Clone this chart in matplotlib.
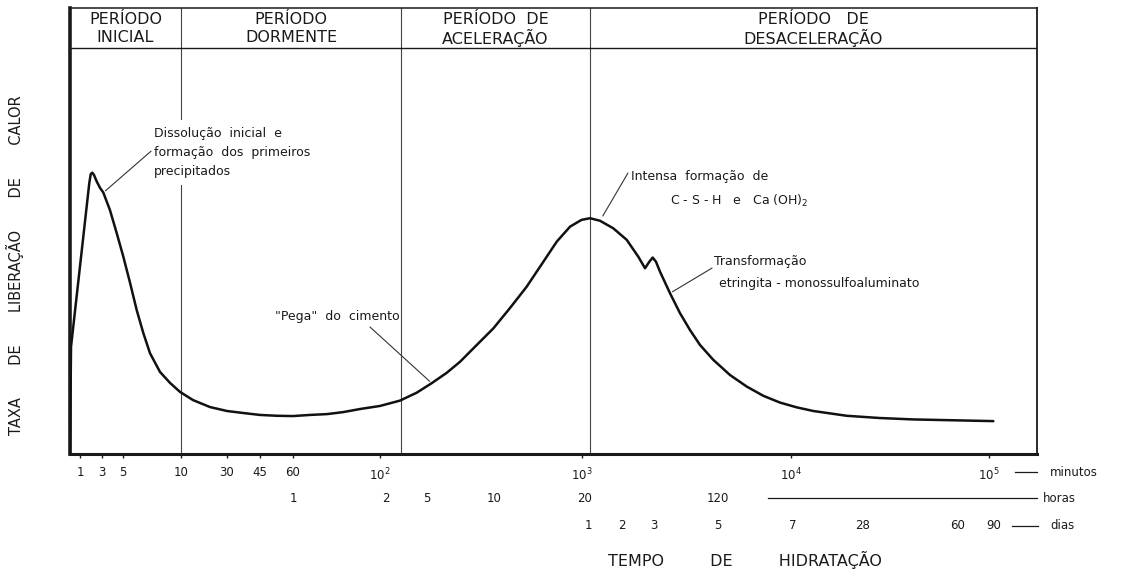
import numpy as np
import matplotlib.pyplot as plt
from matplotlib.transforms import blended_transform_factory

# heat release curve of cement hydration (arbitrary units, first peak = 100)
time_min = [0.1, 0.126, 1.59, 1.71, 1.85, 2.01, 2.30, 2.72, 3.10, 3.64, 4.29, 5.02,
            5.44, 5.89, 6.37, 6.90, 7.78, 8.77, 9.88, 13.3, 20.0, 30, 36.5, 45,
            52.2, 60, 66.3, 73.3, 80.5, 88.9, 100, 164, 238, 315, 368, 422, 502,
            596, 658, 725, 799, 864, 933, 997, 1500, 1839, 2413, 3058, 3541, 3855,
            4070, 4250, 4390, 4531, 4909, 5317, 5759, 6237, 6934, 7601, 8193, 8830,
            9517, 10850, 15070, 29200, 46200, 60360, 83210, 125000]
heat_rate = [0, 38.1, 96.4, 99.6, 100.1, 99.3, 97.0, 94.7, 93.0, 86.8, 78.6, 70.2,
             60.9, 51.2, 43.1, 35.9, 29.2, 25.3, 22.1, 19.2, 16.7, 15.3, 14.6, 13.9,
             13.6, 13.5, 13.9, 14.2, 14.9, 16.0, 17.1, 19.0, 21.8, 25.2, 28.9, 32.8,
             38.8, 44.7, 51.9, 59.5, 68.4, 75.6, 80.9, 83.3, 83.9, 83.0, 80.3, 76.2,
             70.2, 66.1, 68.4, 69.9, 68.4, 64.9, 57.2, 50.1, 44.1, 38.8, 33.5, 28.1,
             24.0, 20.7, 18.3, 16.6, 15.3, 13.6, 12.8, 12.3, 12.0, 11.7]

period_bounds_min = [10, 168, 1500]
period_names = [("PERÍODO", "INICIAL"), ("PERÍODO", "DORMENTE"),
                ("PERÍODO  DE", "ACELERAÇÃO"), ("PERÍODO   DE", "DESACELERAÇÃO")]

minute_ticks = [1, 3, 5, 10, 30, 45, 60, 100, 1000, 10000, 100000]
minute_labels = ["1", "3", "5", "10", "30", "45", "60",
                 "$10^2$", "$10^3$", "$10^4$", "$10^5$"]
hour_ticks = [1, 2, 5, 10, 20, 120]
day_ticks = [1, 2, 3, 5, 7, 28, 60, 90]

# the time axis of the original is hand drawn: piecewise log mapping
knot_min = [0.1, 1, 3, 5, 10, 30, 45, 60, 100, 120, 300, 600, 1000, 1200, 1440,
            2880, 4320, 7200, 10000, 10080, 40320, 86400, 100000, 129600, 200000]
knot_pos = [70, 80, 102, 123, 181, 227, 260, 293, 380, 386, 427, 494, 582, 585,
            588, 622, 654, 718, 791, 793, 863, 958, 989, 994, 1037]
knot_log = np.log10(knot_min)


def fwd(x):
    x = np.clip(np.asarray(x, dtype=float), 1e-6, None)
    return np.interp(np.log10(x), knot_log, knot_pos)


def inv(p):
    return 10 ** np.interp(p, knot_pos, knot_log)


ink = "#1a1a1a"
fig = plt.figure(figsize=(11.22, 5.75), dpi=100)
ax = fig.add_axes([70 / 1122, 121 / 575, 967 / 1122, 446 / 575])
ax.set_xscale("function", functions=(fwd, inv))
ax.set_xlim(0.1, 200000)
ax.set_ylim(0, 158.7)

ax.plot(time_min, heat_rate, color="#111111", lw=1.8, solid_joinstyle="round",
        solid_capstyle="round", zorder=4)

# period columns and header row
for b in period_bounds_min:
    ax.axvline(b, color="#444444", lw=0.8, zorder=1)
ax.plot([0, 1], [0.91, 0.91], transform=ax.transAxes, color=ink, lw=1.0)

x0, x1 = fwd(0.1), fwd(200000)
edges = [0] + [(fwd(b) - x0) / (x1 - x0) for b in period_bounds_min] + [1]
for i, (l1, l2) in enumerate(period_names):
    cx = (edges[i] + edges[i + 1]) / 2
    ax.text(cx, 0.975, l1, transform=ax.transAxes, ha="center", va="center",
            fontsize=11.5, color=ink)
    ax.text(cx, 0.933, l2, transform=ax.transAxes, ha="center", va="center",
            fontsize=11.5, color=ink)

for side, lw in [("left", 2.6), ("bottom", 2.2), ("top", 1.1), ("right", 1.3)]:
    ax.spines[side].set_linewidth(lw)
    ax.spines[side].set_color(ink)

ax.set_yticks([])
ax.set_xticks(minute_ticks, minute_labels)
ax.xaxis.set_minor_locator(plt.NullLocator())
ax.tick_params(axis="x", length=3, width=1, pad=6, labelsize=8.5, colors=ink)

# hours and days rows under the minutes row
bt = blended_transform_factory(ax.transData, ax.transAxes)
for h in hour_ticks:
    ax.text(h * 60, -0.0987, str(h), transform=bt, ha="center", va="center",
            fontsize=8.5, color=ink)
for d in day_ticks:
    ax.text(d * 1440, -0.1614, str(d), transform=bt, ha="center", va="center",
            fontsize=8.5, color=ink)

for xa, xb, y, name, xt in [(0.977, 1.0, -0.0404, "minutos", 1.0134),
                            (0.722, 1.0, -0.0987, "horas", 1.0062),
                            (0.974, 1.001, -0.1614, "dias", 1.0134)]:
    ax.plot([xa, xb], [y, y], transform=ax.transAxes, color=ink, lw=0.9, clip_on=False)
    ax.text(xt, y, name, transform=ax.transAxes, ha="left", va="center",
            fontsize=8.5, color=ink)

# annotations
note = dict(fontsize=9, color=ink, transform=ax.transAxes, ha="left", va="center")
lead = dict(arrowstyle="-", color="#333333", lw=0.8, shrinkA=0, shrinkB=2)


def at(t):
    i = time_min.index(t)
    return time_min[i], heat_rate[i]


ax.text(0.0869, 0.677, "Dissolução  inicial  e\nformação  dos  primeiros\nprecipitados",
        linespacing=1.6, bbox=dict(fc="white", ec="none", pad=5), zorder=3, **note)
ax.annotate("", xy=at(3.10), xytext=(0.0838, 0.679),
            textcoords="axes fraction", arrowprops=lead)

ax.text(0.212, 0.3094, '"Pega"  do  cimento', **note)
ax.annotate("", xy=at(315), xytext=(0.3102, 0.2848),
            textcoords="axes fraction", arrowprops=lead)

ax.text(0.580, 0.623, "Intensa  formação  de", **note)
ax.text(0.6205, 0.567, "C - S - H   e   Ca (OH)$_2$", **note)
ax.annotate("", xy=at(1839), xytext=(0.577, 0.630),
            textcoords="axes fraction", arrowprops=dict(lead, shrinkB=4))

ax.text(0.666, 0.4327, "Transformação", **note)
ax.text(0.671, 0.3834, "etringita - monossulfoaluminato", **note)
ax.annotate("", xy=at(4909), xytext=(0.664, 0.417),
            textcoords="axes fraction", arrowprops=lead)

# axis titles
fig.text(15 / 1122, 1 - 265 / 575, "TAXA       DE       LIBERAÇÃO       DE       CALOR",
         rotation=90, ha="center", va="center", fontsize=10.5, color=ink)
fig.text(745 / 1122, 15 / 575, "TEMPO         DE         HIDRATAÇÃO",
         ha="center", va="center", fontsize=11.5, color=ink)

fig.savefig("out.png", dpi=100)
